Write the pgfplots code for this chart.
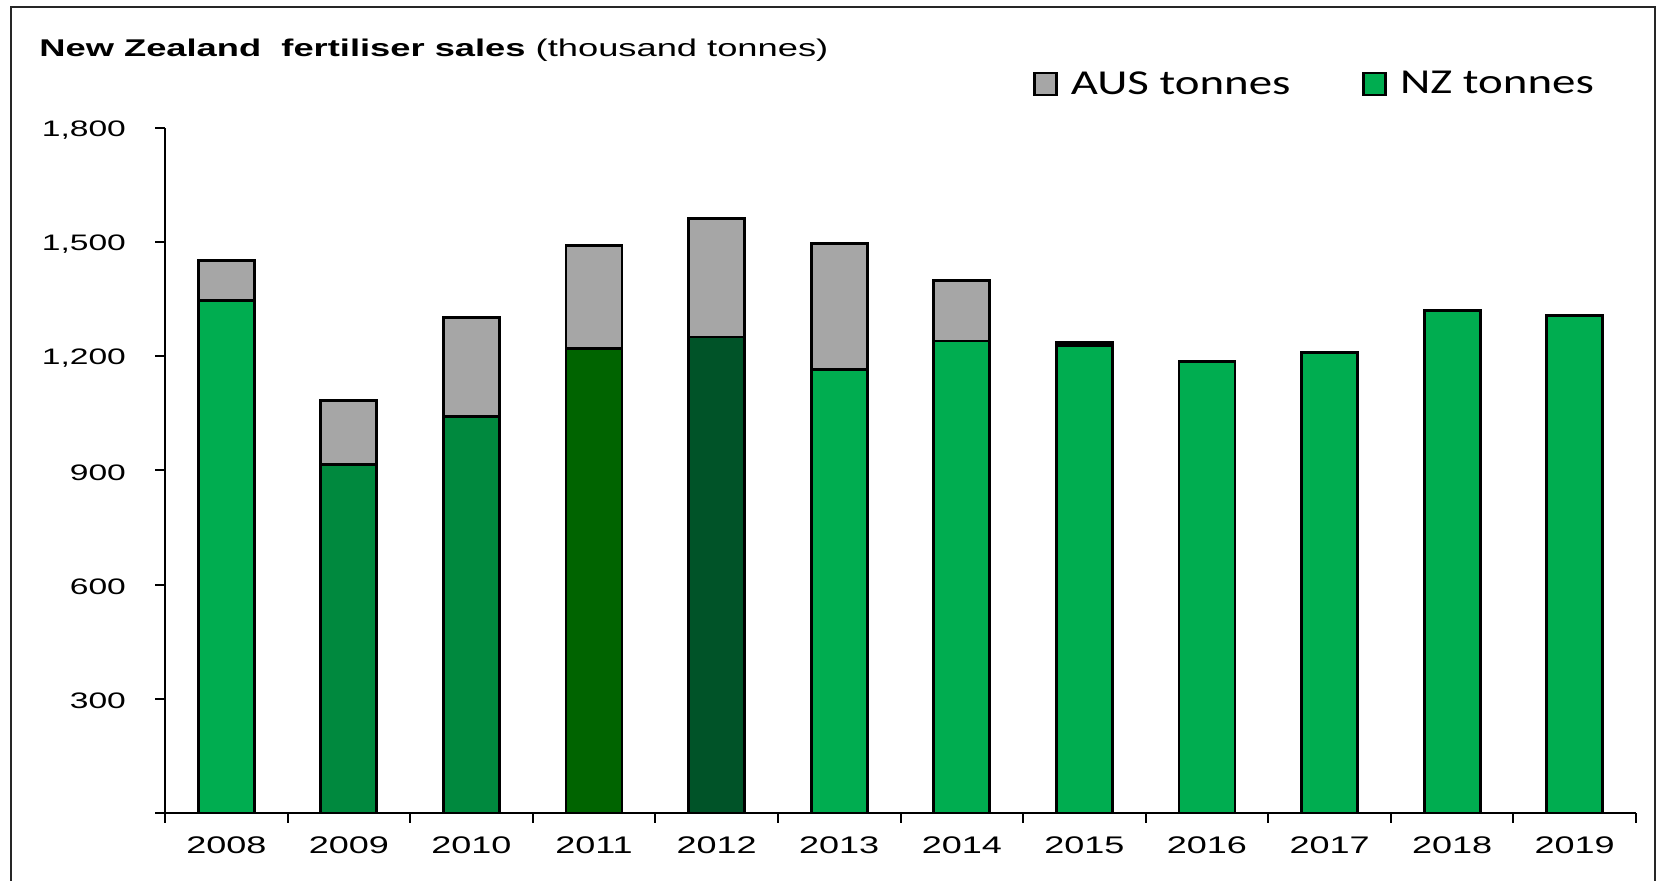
\documentclass[border=0pt]{standalone}
\usepackage{fontspec}
\setmainfont{Liberation Sans}[FakeStretch=1.5]
\newfontfamily\legfont{Carlito}[FakeStretch=1.34]
\usepackage{pgfplots}
\pgfplotsset{compat=1.18}
\definecolor{nzlight}{RGB}{0,173,80}
\definecolor{nzmed}{RGB}{0,137,62}
\definecolor{nzdark}{RGB}{0,100,0}
\definecolor{nzdarker}{RGB}{0,83,40}
\definecolor{ausgray}{RGB}{166,166,166}
\begin{document}
\begin{tikzpicture}
\useasboundingbox (0,0) rectangle (829pt,440.5pt);
\draw[line width=1pt, black!85] (5.5pt,-2pt) -- (5.5pt,437pt) -- (827.5pt,437pt) -- (827.5pt,-2pt);
\node[anchor=base west, inner sep=0pt] at (19.5pt,412pt) {\fontsize{12.1}{14}\selectfont\textbf{New Zealand\ \ fertiliser sales} (thousand tonnes)};
\begin{axis}[
  at={(82.5pt,34pt)}, anchor=south west,
  scale only axis, width=735.5pt, height=342.5pt,
  xmin=-0.5, xmax=11.5, ymin=0, ymax=1800,
  axis x line=bottom, axis y line=left,
  axis line style={-, line width=1.3pt, black},
  ybar, bar width=28pt, bar shift=0pt,
  ytick={0,300,...,1800}, yticklabels={,300,600,900,{1,200},{1,500},{1,800}},
  xtick={-0.5,0.5,...,11.5}, xticklabels={},
  extra x ticks={0,1,...,11},
  extra x tick labels={2008,2009,2010,2011,2012,2013,2014,2015,2016,2017,2018,2019},
  extra x tick style={major tick length=0pt},
  tick align=outside, major tick length=5pt,
  tick style={black, line width=1pt},
  /pgf/number format/assume math mode=true,
  yticklabel style={font=\fontsize{11.2}{12}\selectfont, xshift=-11pt, yshift=-1pt},
  xticklabel style={font=\fontsize{12}{13}\selectfont, yshift=-8.5pt},
  clip=false,
  legend style={draw=none, fill=none, at={(0.59,1.064)}, anchor=west,
    font=\legfont\fontsize{17.5}{18}\selectfont, inner sep=0pt,
    /tikz/every odd column/.append style={column sep=4.5pt},
    /tikz/every even column/.append style={column sep=34pt}},
  legend columns=2,
]
\addlegendimage{legend image code/.code={\draw[fill=ausgray, draw=black, line width=1.3pt] (0pt,-5.5pt) rectangle (11pt,5.5pt);}}
\addlegendimage{legend image code/.code={\draw[fill=nzlight, draw=black, line width=1.3pt] (0pt,-5.5pt) rectangle (11pt,5.5pt);}}
% totals (NZ + AUS)
\addplot[fill=ausgray, draw=black, line width=1.4pt] coordinates {(0,1452) (1,1084) (2,1301) (3,1492) (4,1562) (5,1496) (6,1400) (7,1237)};
% NZ tonnes
\addplot[fill=nzlight, draw=black, line width=1.4pt] coordinates {(0,1346) (5,1166) (6,1240) (7,1229) (8,1187) (9,1209) (10,1321) (11,1308)};
\addplot[fill=nzmed, draw=black, line width=1.4pt] coordinates {(1,915) (2,1042)};
\addplot[fill=nzdark, draw=black, line width=1.4pt] coordinates {(3,1221)};
\addplot[fill=nzdarker, draw=black, line width=1.4pt] coordinates {(4,1251)};
\legend{AUS tonnes, NZ tonnes}
\end{axis}
\end{tikzpicture}
\end{document}
